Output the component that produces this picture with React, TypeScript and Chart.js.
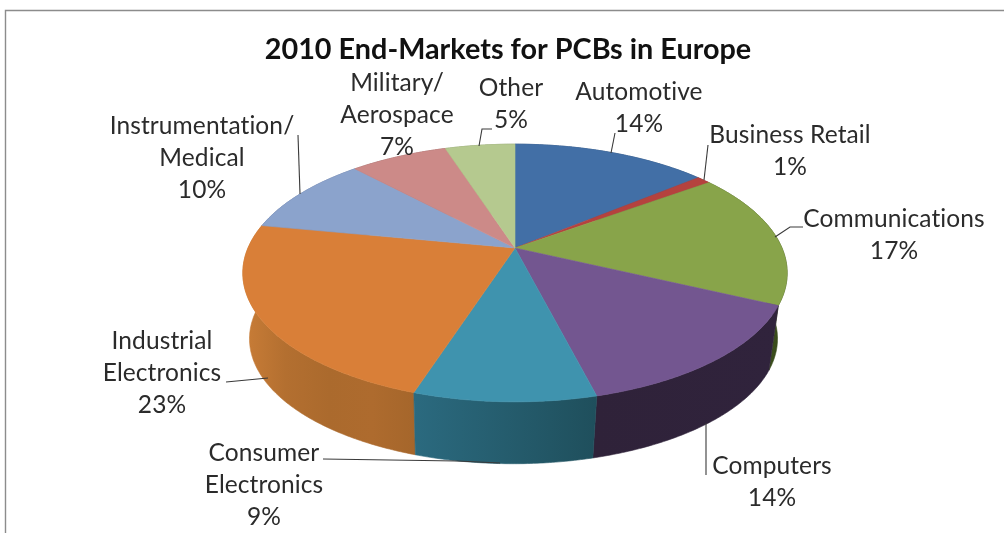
import React, { useEffect, useRef } from "react";
import { Chart, registerables } from "chart.js";

Chart.register(...registerables);

const titleText = "2010 End-Markets for PCBs in Europe";
const categories = [
  ["Automotive"],
  ["Business Retail"],
  ["Communications"],
  ["Computers"],
  ["Consumer", "Electronics"],
  ["Industrial", "Electronics"],
  ["Instrumentation/", "Medical"],
  ["Military/", "Aerospace"],
  ["Other"],
];
const shares = [14, 1, 17, 14, 9, 23, 10, 7, 5];
const topColors = ["#426fa6", "#b5423e", "#88a44a", "#735690", "#3f93ae", "#d97f38", "#8ba3cc", "#cc8a88", "#b5c98f"];
const wallStops = [
  ["#2c4a70", "#2c4a70"],
  ["#7a2c2a", "#7a2c2a"],
  ["#4a6024", "#37491a"],
  ["#2f2239", "#30233c"],
  ["#2b6a7f", "#1f4f5c"],
  ["#c97d37", "#b36f30", "#ab6a2d", "#ae6b2e", "#a5662b"],
  ["#5f7196", "#5f7196"],
  ["#8c5c5a", "#8c5c5a"],
  ["#7d8c60", "#7d8c60"],
];

// label placement: centre x and first baseline
const labelAnchors = [
  [639, 100], [790, 143], [894, 227], [772, 474], [264, 461], [162, 349], [202, 134], [397, 91], [511, 96],
];
const leaderPaths = [
  [[611, 153], [615, 133]],
  [[704, 180], [708, 145]],
  [[775, 237], [790, 227], [803, 227]],
  [[706, 423], [706, 475]],
  [[323, 459], [457, 461], [500, 463]],
  [[268, 378], [226, 382]],
  [[300, 194], [298, 135]],
  [],
  [[479, 146], [482, 129], [492, 129]],
];

const CX = 515;
const CY = 248;
const A = 124;
const B = 267;
const P = 0.194;
const WALL_DX = -1.5;
const WALL_DY = 66.5;
const WALL_S = 0.97;
const FONT = "Lato, 'Open Sans', sans-serif";

function project(angle: number, dy = 0, s = 1, dx = 0): [number, number] {
  const x = Math.cos(angle);
  const y = Math.sin(angle);
  const w = 1 - P * y;
  return [CX + dx + (s * B * x) / w, CY + dy + (s * A * y) / w];
}

function arcPoints(a0: number, a1: number, dy = 0, s = 1, dx = 0) {
  const n = Math.max(2, Math.ceil((a1 - a0) / 0.01));
  const pts: [number, number][] = [];
  for (let i = 0; i <= n; i++) pts.push(project(a0 + ((a1 - a0) * i) / n, dy, s, dx));
  return pts;
}

const piePlugin = {
  id: "perspectivePie",
  beforeDatasetsDraw(chart: any) {
    const ctx = chart.ctx as CanvasRenderingContext2D;
    const arcs = chart.getDatasetMeta(0).data as any[];
    const order = arcs
      .map((_, i) => i)
      .sort((a, b) => {
        const m = (e: any) => Math.sin((e.startAngle + e.endAngle) / 2);
        return m(arcs[a]) - m(arcs[b]);
      });

    ctx.save();
    // frame of the pasted chart
    ctx.strokeStyle = "#8c8c8c";
    ctx.lineWidth = 1.4;
    ctx.beginPath();
    ctx.moveTo(5.5, 533);
    ctx.lineTo(5.5, 10.5);
    ctx.lineTo(1004, 10.5);
    ctx.stroke();

    // side wall
    order.forEach((i) => {
      const e = arcs[i];
      const top = arcPoints(e.startAngle, e.endAngle);
      const bottom = arcPoints(e.startAngle, e.endAngle, WALL_DY, WALL_S, WALL_DX).reverse();
      const xs = [...top, ...bottom].map((p) => p[0]);
      const g = ctx.createLinearGradient(Math.min(...xs), 0, Math.max(...xs), 0);
      wallStops[i].forEach((c, k, all) => g.addColorStop(k / (all.length - 1), c));
      ctx.fillStyle = g;
      ctx.strokeStyle = g;
      ctx.lineWidth = 0.6;
      ctx.beginPath();
      [...top, ...bottom].forEach((p, k) => (k ? ctx.lineTo(p[0], p[1]) : ctx.moveTo(p[0], p[1])));
      ctx.closePath();
      ctx.fill();
      ctx.stroke();
    });

    // top face
    arcs.forEach((e, i) => {
      const pts = arcPoints(e.startAngle, e.endAngle);
      ctx.fillStyle = topColors[i];
      ctx.strokeStyle = topColors[i];
      ctx.lineWidth = 0.6;
      ctx.beginPath();
      ctx.moveTo(CX, CY);
      pts.forEach((p) => ctx.lineTo(p[0], p[1]));
      ctx.closePath();
      ctx.fill();
      ctx.stroke();
    });

    // leaders and labels
    ctx.strokeStyle = "#3a3a3a";
    ctx.lineWidth = 1.1;
    leaderPaths.forEach((path) => {
      if (!path.length) return;
      ctx.beginPath();
      path.forEach((p, k) => (k ? ctx.lineTo(p[0], p[1]) : ctx.moveTo(p[0], p[1])));
      ctx.stroke();
    });

    ctx.fillStyle = "#2b2b2b";
    ctx.font = `400 24.5px ${FONT}`;
    (ctx as any).letterSpacing = "0.1px";
    ctx.textAlign = "center";
    ctx.textBaseline = "alphabetic";
    categories.forEach((lines, i) => {
      const [x, y] = labelAnchors[i];
      [...lines, `${shares[i]}%`].forEach((t, k) => ctx.fillText(t, x, y + k * 32));
    });
    ctx.restore();
    return false;
  },
};

export default function App() {
  const ref = useRef<HTMLCanvasElement>(null);
  useEffect(() => {
    document.body.style.margin = "0";
    document.body.style.background = "#fff";
    const chart = new Chart(ref.current!, {
      type: "pie",
      data: {
        labels: categories.map((c) => c.join(" ")),
        datasets: [{ data: shares, backgroundColor: topColors, borderWidth: 0 }],
      },
      options: {
        responsive: false,
        animation: false,
        layout: { padding: { left: 12 } },
        plugins: {
          legend: { display: false },
          tooltip: { enabled: false },
          title: {
            display: true,
            text: titleText,
            color: "#111",
            font: { family: FONT, size: 28.8, weight: "bold" },
            padding: { top: 32, bottom: 10 },
          },
        },
      },
      plugins: [piePlugin],
    } as any);
    return () => chart.destroy();
  }, []);
  return <canvas ref={ref} width={1004} height={533} style={{ display: "block" }} />;
}
